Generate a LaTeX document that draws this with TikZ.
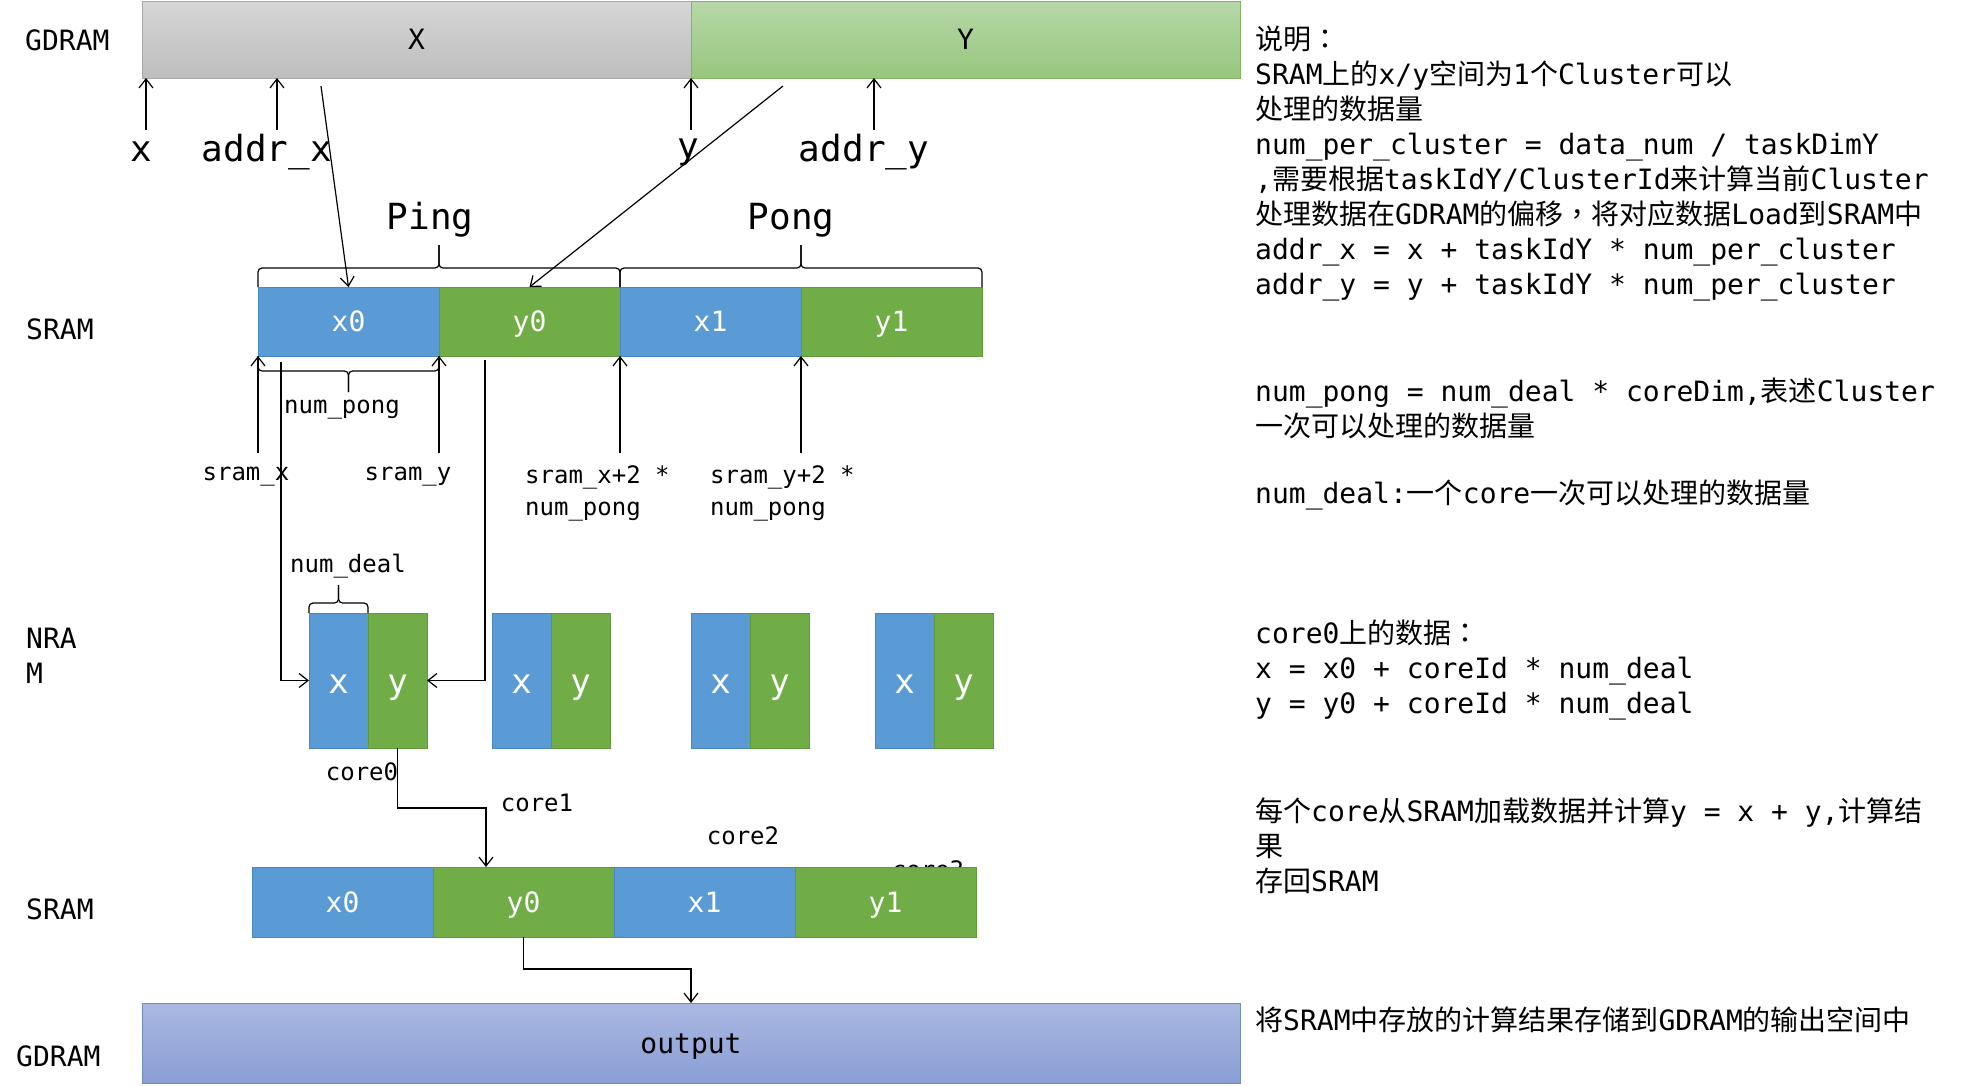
\documentclass[tikz,border=0pt]{standalone}
\usepackage{fontspec}
\setmainfont{DejaVu Sans Mono}
\newfontfamily\cjk{Noto Sans CJK SC}
\newfontfamily\cjkp{Noto Sans CJK TC}
\newcommand{\zh}[1]{{\cjk #1}}
\newcommand{\zhp}[1]{{\cjkp #1}}
\newcommand{\szmid}{\fontsize{28}{35}\selectfont}
\newcommand{\szbig}{\fontsize{36}{42}\selectfont}
\newcommand{\szsmall}{\fontsize{24}{32}\selectfont}
\newcommand{\szcell}{\fontsize{34}{40}\selectfont}
\usetikzlibrary{positioning,arrows.meta}

\definecolor{cblue}{HTML}{5B9BD5}
\definecolor{cbluel}{HTML}{4A86C0}
\definecolor{cgreen}{HTML}{70AD47}
\definecolor{cgreenl}{HTML}{5E9A3A}
\definecolor{xtop}{HTML}{D6D6D6}
\definecolor{xbot}{HTML}{BDBDBD}
\definecolor{xline}{HTML}{A8A8A8}
\definecolor{ytop}{HTML}{B6D7A8}
\definecolor{ybot}{HTML}{97C67D}
\definecolor{yline}{HTML}{82B366}
\definecolor{otop}{HTML}{AAB8E1}
\definecolor{obot}{HTML}{8A9ED6}
\definecolor{oline}{HTML}{6C8EBF}

\begin{document}
\begin{tikzpicture}
  [x=1pt,y=-1pt,
   arr/.style={-{Straight Barb[length=9pt,width=14pt]},line width=1.2pt},
   brk/.style={line width=1.2pt,rounded corners=4pt},
   gbar/.style={minimum height=77pt,inner sep=0,outer sep=0,line width=1pt,font=\szmid,
                text height=20pt,text depth=0pt},
   cell/.style={minimum width=181pt,minimum height=69pt,inner sep=0,outer sep=0,
                line width=1pt,text=white,font=\szmid,text height=20pt,text depth=0pt},
   xcell/.style={cell,fill=cblue,draw=cbluel},
   ycell/.style={cell,fill=cgreen,draw=cgreenl},
   col/.style={minimum width=59pt,minimum height=135pt,inner sep=0,outer sep=0,
               line width=1pt,text=white,font=\szcell,text height=25pt,text depth=0pt},
   xcol/.style={col,fill=cblue,draw=cbluel},
   ycol/.style={col,fill=cgreen,draw=cgreenl},
   side/.style={anchor=west,inner sep=0,font=\szmid},
   big/.style={inner sep=0,font=\szbig},
   small/.style={inner sep=1pt,font=\szsmall},
   note/.style={anchor=west,inner sep=0,align=left,font=\szmid}]
  \useasboundingbox (0,0) rectangle (1974,1085);

  % GDRAM input
  \node[gbar,top color=xtop,bottom color=xbot,draw=xline,minimum width=549pt] (gx) at (416.5,39.5) {X};
  \node[gbar,top color=ytop,bottom color=ybot,draw=yline,minimum width=549pt,right=0pt of gx] (gy) {Y};

  % SRAM ping/pong
  \node[xcell] (s1x0) at (348.5,321.5) {x0};
  \node[ycell,right=0pt of s1x0] (s1y0) {y0};
  \node[xcell,right=0pt of s1y0] (s1x1) {x1};
  \node[ycell,right=0pt of s1x1] (s1y1) {y1};

  % NRAM of the four cores
  \node[xcol] (c0x) at (338.5,680.5) {x};
  \node[ycol,right=0pt of c0x] (c0y) {y};
  \node[xcol] (c1x) at (521.5,680.5) {x};
  \node[ycol,right=0pt of c1x] (c1y) {y};
  \node[xcol] (c2x) at (720.5,680.5) {x};
  \node[ycol,right=0pt of c2x] (c2y) {y};
  \node[xcol] (c3x) at (904.5,680.5) {x};
  \node[ycol,right=0pt of c3x] (c3y) {y};

  \node[small] (k0) at (362,772) {core0};
  \node[small] (k1) at (537,803) {core1};
  \node[small] (k2) at (743,836) {core2};
  \node[small] (k3) at (928,870) {core3};

  % SRAM result
  \node[xcell,minimum height=70pt] (s2x0) at (342.5,902) {x0};
  \node[ycell,minimum height=70pt,right=0pt of s2x0] (s2y0) {y0};
  \node[xcell,minimum height=70pt,right=0pt of s2y0] (s2x1) {x1};
  \node[ycell,minimum height=70pt,right=0pt of s2x1] (s2y1) {y1};

  % GDRAM output
  \node[gbar,top color=otop,bottom color=obot,draw=oline,minimum width=1098pt,minimum height=80pt] (out) at (691,1043) {output};

  % row labels
  \node[side] (lg1) at (25,40) {GDRAM};
  \node[side] (ls1) at (26,329) {SRAM};
  \node[side,align=left] (ln) at (26,656) {NRA\\M};
  \node[side] (ls2) at (26,909) {SRAM};
  \node[side] (lg2) at (16,1056) {GDRAM};

  % addresses in GDRAM
  \node[big] (tx) at (141,152) {x};
  \node[big] (tax) at (267,152) {addr\_x};
  \node[big] (ty) at (688,152) {y};
  \node[big] (tay) at (864,152) {addr\_y};
  \coordinate (ax) at (146,130);
  \coordinate (aax) at (277,130);
  \coordinate (ay) at (691,130);
  \coordinate (aay) at (874,130);
  \foreach \p/\b in {ax/gx,aax/gx,ay/gy,aay/gy}
    \draw[arr] (\p) -- (\p |- \b.south);

  \coordinate (dx) at (321,86);
  \coordinate (dy) at (783,86);
  \draw[arr] (dx) -- (s1x0.north);
  \draw[arr] (dy) -- (s1y0.north);

  % ping / pong
  \node[big] (tping) at (430,220) {Ping};
  \node[big] (tpong) at (791,220) {Pong};
  \draw[brk] (s1x0.north west) -- ([yshift=19pt]s1x0.north west) -- ([yshift=19pt]s1x0.north east) -- ([yshift=42pt]s1x0.north east);
  \draw[brk] (s1y0.north east) -- ([yshift=19pt]s1y0.north east) -- ([yshift=19pt]s1x0.north east) -- ([yshift=42pt]s1x0.north east);
  \draw[brk] (s1x1.north west) -- ([yshift=19pt]s1x1.north west) -- ([yshift=19pt]s1x1.north east) -- ([yshift=42pt]s1x1.north east);
  \draw[brk] (s1y1.north east) -- ([yshift=19pt]s1y1.north east) -- ([yshift=19pt]s1x1.north east) -- ([yshift=42pt]s1x1.north east);

  % sram addresses
  \foreach \c in {s1x0,s1y0,s1x1,s1y1}
    \draw[arr] ([yshift=-97pt]\c.south west) -- (\c.south west);
  \node[small] (lsx) at (246,477) {sram\_x};
  \node[small] (lsy) at (408,477) {sram\_y};
  \node[small,anchor=west,align=left] (lsx2) at (524,493) {sram\_x+2 *\\num\_pong};
  \node[small,anchor=west,align=left] (lsy2) at (709,493) {sram\_y+2 *\\num\_pong};

  \draw[brk] (s1x0.south west) -- ([yshift=-15pt]s1x0.south west) -- ([yshift=-15pt]s1x0.south) -- ([yshift=-36pt]s1x0.south);
  \draw[brk] (s1x0.south east) -- ([yshift=-15pt]s1x0.south east) -- ([yshift=-15pt]s1x0.south) -- ([yshift=-36pt]s1x0.south);
  \node[small] (lpong) at (342,410) {num\_pong};

  % load into core0
  \coordinate (sx) at (281,362);
  \coordinate (sy) at (485,360);
  \draw[arr] (sx) |- (c0x.west);
  \draw[arr] (sy) |- (c0y.east);

  \draw[brk] (c0x.north west) -- ([yshift=10pt]c0x.north west) -- ([yshift=10pt]c0x.north) -- ([yshift=28pt]c0x.north);
  \draw[brk] (c0x.north east) -- ([yshift=10pt]c0x.north east) -- ([yshift=10pt]c0x.north) -- ([yshift=28pt]c0x.north);
  \node[small] (ldeal) at (348,566) {num\_deal};

  % store back
  \coordinate (bend) at (486,808);
  \draw[arr] (c0y.south) |- (bend) -- (bend |- s2y0.north);
  \draw[arr] (s2y0.south) |- ([yshift=34pt]out.north) -- (out.north);

  % notes
  \node[note] (n1) at (1255,164) {\zh{说明}\zhp{：}\\
    SRAM\zh{上的}x/y\zh{空间为}1\zh{个}Cluster\zh{可以}\\
    \zh{处理的数据量}\\
    num\_per\_cluster = data\_num / taskDimY\\
    ,\zh{需要根据}taskIdY/ClusterId\zh{来计算当前}Cluster\\
    \zh{处理数据在}GDRAM\zh{的偏移}\zhp{，}\zh{将对应数据}Load\zh{到}SRAM\zh{中}\\
    addr\_x = x + taskIdY * num\_per\_cluster\\
    addr\_y = y + taskIdY * num\_per\_cluster};
  \node[note] (n2) at (1255,408) {num\_pong = num\_deal * coreDim,\zh{表述}Cluster\\
    \zh{一次可以处理的数据量}};
  \node[note] (n3) at (1255,495) {num\_deal:\zh{一个}core\zh{一次可以处理的数据量}};
  \node[note] (n4) at (1255,670) {core0\zh{上的数据}\zhp{：}\\
    x = x0 + coreId * num\_deal\\
    y = y0 + coreId * num\_deal};
  \node[note] (n5) at (1255,846) {\zh{每个}core\zh{从}SRAM\zh{加载数据并计算}y = x + y,\zh{计算结}\\
    \zh{果}\\
    \zh{存回}SRAM};
  \node[note] (n6) at (1255,1020) {\zh{将}SRAM\zh{中存放的计算结果存储到}GDRAM\zh{的输出空间中}};
\end{tikzpicture}
\end{document}
